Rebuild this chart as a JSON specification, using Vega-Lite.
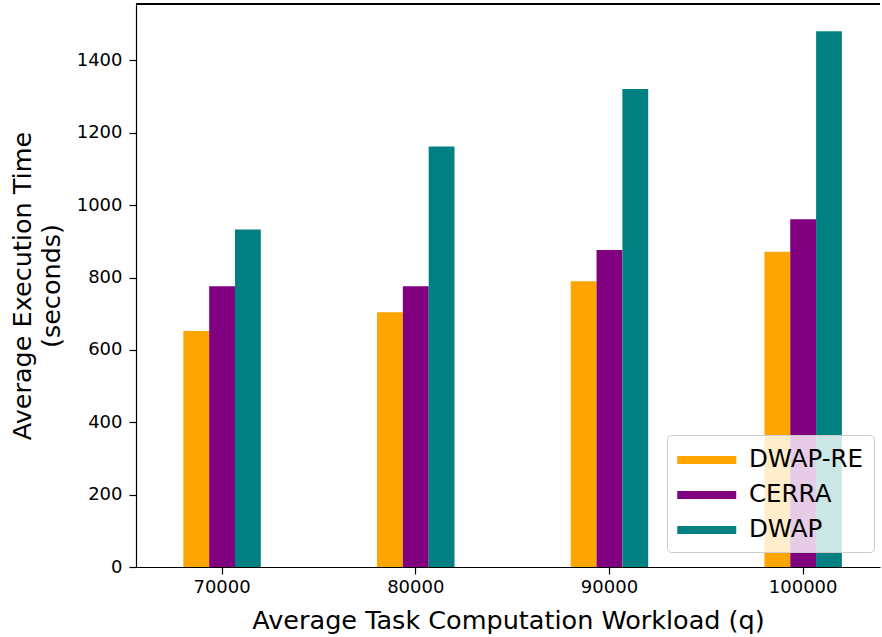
{
  "$schema": "https://vega.github.io/schema/vega-lite/v6.json",
  "autosize": "none",
  "width": 744,
  "height": 563,
  "padding": {"left": 136, "top": 4, "right": 2, "bottom": 70},
  "background": "white",
  "config": {
    "font": "DejaVu Sans",
    "view": {"stroke": null},
    "axis": {
      "domainColor": "black",
      "domainWidth": 1.2,
      "tickColor": "black",
      "tickWidth": 1.2,
      "tickSize": 7,
      "labelColor": "black",
      "titleColor": "black",
      "labelFontSize": 18,
      "titleFontSize": 25.5,
      "titleFontWeight": "normal",
      "grid": false
    }
  },
  "data": {
    "values": [
      {"q": 70000, "method": "DWAP-RE", "time": 652},
      {"q": 70000, "method": "CERRA", "time": 776},
      {"q": 70000, "method": "DWAP", "time": 933},
      {"q": 80000, "method": "DWAP-RE", "time": 704},
      {"q": 80000, "method": "CERRA", "time": 776},
      {"q": 80000, "method": "DWAP", "time": 1162},
      {"q": 90000, "method": "DWAP-RE", "time": 790},
      {"q": 90000, "method": "CERRA", "time": 876},
      {"q": 90000, "method": "DWAP", "time": 1321},
      {"q": 100000, "method": "DWAP-RE", "time": 871},
      {"q": 100000, "method": "CERRA", "time": 961},
      {"q": 100000, "method": "DWAP", "time": 1481}
    ]
  },
  "layer": [
    {
      "mark": {"type": "bar", "strokeWidth": 0},
      "encoding": {
        "x": {
          "field": "q",
          "type": "ordinal",
          "scale": {"paddingInner": 0.6, "paddingOuter": 0.2205, "align": 0.554},
          "axis": {"labelAngle": 0, "title": "Average Task Computation Workload (q)", "labelPadding": 4, "titlePadding": 12}
        },
        "xOffset": {
          "field": "method",
          "type": "nominal",
          "sort": ["DWAP-RE", "CERRA", "DWAP"],
          "scale": {"paddingInner": 0, "paddingOuter": 0}
        },
        "y": {
          "field": "time",
          "type": "quantitative",
          "scale": {"domain": [0, 1556], "nice": false, "zero": true},
          "axis": {
            "values": [0, 200, 400, 600, 800, 1000, 1200, 1400],
            "format": "d",
            "title": ["Average Execution Time", "(seconds)"],
            "titleLineHeight": 29,
            "labelPadding": 7,
            "titlePadding": 12
          }
        },
        "color": {
          "field": "method",
          "type": "nominal",
          "sort": ["DWAP-RE", "CERRA", "DWAP"],
          "scale": {"domain": ["DWAP-RE", "CERRA", "DWAP"], "range": ["#FFA500", "#800080", "#008080"]},
          "legend": {
            "title": null,
            "orient": "none",
            "legendX": 531,
            "legendY": 431,
            "fillColor": "rgba(255,255,255,0.8)",
            "strokeColor": "#cccccc",
            "cornerRadius": 4,
            "padding": 10,
            "symbolType": "M-1,-0.27H3V0.27H-1Z",
            "symbolSize": 870,
            "symbolStrokeWidth": 0,
            "symbolOpacity": 1,
            "labelFontSize": 24.5,
            "labelColor": "black",
            "labelOffset": 42,
            "rowPadding": 8,
            "labelLimit": 300
          }
        }
      }
    },
    {
      "mark": {"type": "rule", "color": "black", "strokeWidth": 1.2},
      "encoding": {"y": {"datum": 1556}}
    }
  ]
}
